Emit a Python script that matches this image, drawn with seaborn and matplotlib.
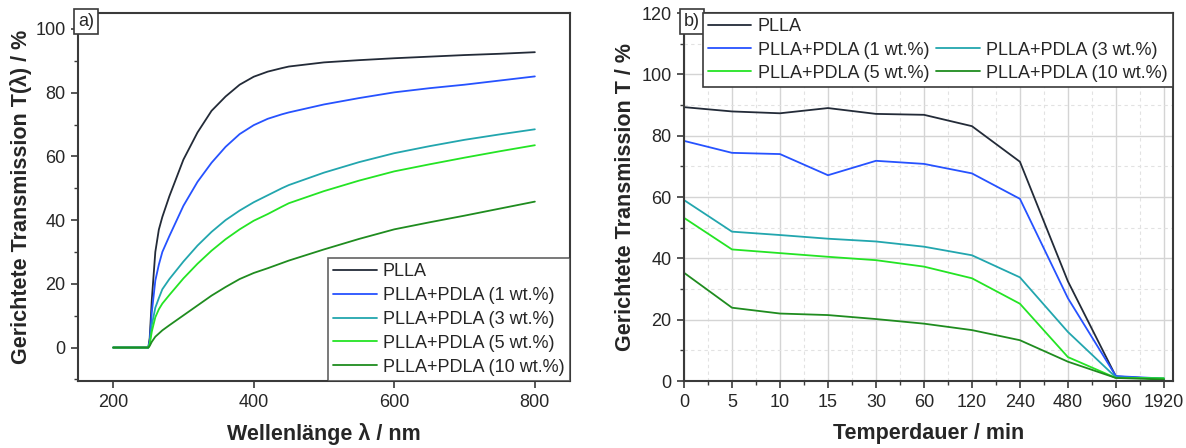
import numpy as np
import pandas as pd
import matplotlib
matplotlib.use("Agg")
import matplotlib.pyplot as plt
from matplotlib.ticker import MultipleLocator, AutoMinorLocator
from matplotlib.lines import Line2D
import seaborn as sns

sns.set_style("white")
plt.rcParams["font.family"] = ["Liberation Sans", "DejaVu Sans"]

# panel a: spectra
wavelength = [200, 250, 252, 255, 260, 265, 270, 280, 300, 320, 340, 360, 380, 400,
              420, 440, 450, 500, 550, 600, 650, 700, 750, 800]
t_plla = [0, 0, 3, 15, 30, 37, 41, 47.5, 59, 67.5, 74.3, 78.8, 82.5, 85.0,
          86.6, 87.7, 88.2, 89.5, 90.2, 90.8, 91.3, 91.8, 92.2, 92.7]
t_1wt = [0, 0, 2, 11, 21, 26, 30, 35, 44.5, 52, 58, 63, 67, 69.8,
         71.8, 73.2, 73.8, 76.3, 78.3, 80.1, 81.4, 82.5, 83.8, 85.1]
t_3wt = [0, 0, 1.5, 7, 12.5, 15.5, 18.3, 21.5, 27, 32, 36.3, 40, 43, 45.6,
         47.8, 50.0, 51, 54.9, 58.2, 61, 63.2, 65.2, 66.9, 68.5]
t_5wt = [0, 0, 1, 5, 9.5, 12, 13.8, 16.5, 21.7, 26.3, 30.4, 34, 37.1, 39.8,
         41.9, 44.2, 45.3, 49.1, 52.4, 55.3, 57.5, 59.6, 61.6, 63.5]
t_10wt = [0, 0, 0.5, 1.8, 3.4, 4.4, 5.4, 7.0, 10.1, 13.2, 16.3, 19.0, 21.5, 23.4,
          24.9, 26.5, 27.3, 30.8, 34.1, 37.1, 39.3, 41.4, 43.6, 45.8]

# panel b: transmission vs annealing time
time_labels = ["0", "5", "10", "15", "30", "60", "120", "240", "480", "960", "1920"]
b_plla = [89.3, 87.9, 87.3, 89.0, 87.1, 86.8, 83.1, 71.5, 32.5, 1.5, 0.6]
b_1wt = [78.3, 74.4, 74.0, 67.1, 71.8, 70.8, 67.7, 59.4, 27.0, 1.6, 0.8]
b_3wt = [59.0, 48.7, 47.6, 46.4, 45.5, 43.8, 41.0, 33.8, 16.0, 1.2, 0.8]
b_5wt = [53.2, 42.9, 41.7, 40.5, 39.4, 37.3, 33.5, 25.2, 7.8, 1.0, 0.9]
b_10wt = [35.3, 23.9, 22.0, 21.5, 20.2, 18.7, 16.6, 13.3, 6.3, 1.0, 0.5]

names = ["PLLA", "PLLA+PDLA (1 wt.%)", "PLLA+PDLA (3 wt.%)",
         "PLLA+PDLA (5 wt.%)", "PLLA+PDLA (10 wt.%)"]
colors = ["#232b38", "#2652ff", "#22a6ae", "#24e424", "#1f8c1f"]

spine_c = "#3a3a3a"

fig = plt.figure(figsize=(11.86, 4.48), dpi=100)
ax1 = fig.add_axes([78 / 1186, 1 - 381 / 448, (570 - 78) / 1186, (381 - 13) / 448])
ax2 = fig.add_axes([684 / 1186, 1 - 381 / 448, (1173 - 684) / 1186, (381 - 13) / 448])

def style(ax):
    for s in ax.spines.values():
        s.set_color(spine_c)
        s.set_linewidth(1.5)
    ax.tick_params(which="major", direction="out", length=5, width=1.2,
                   color=spine_c, labelsize=13, bottom=True, left=True, pad=4)
    ax.tick_params(which="minor", direction="out", length=3, width=1.0,
                   color=spine_c, bottom=True, left=True)

# ---- a)
for y, n, c in zip([t_plla, t_1wt, t_3wt, t_5wt, t_10wt], names, colors):
    sns.lineplot(x=wavelength, y=y, color=c, label=n, linewidth=1.3, ax=ax1)
ax1.set_xlim(150, 850)
ax1.set_ylim(-10.5, 105)
ax1.xaxis.set_major_locator(MultipleLocator(200))
ax1.yaxis.set_major_locator(MultipleLocator(20))
ax1.yaxis.set_minor_locator(MultipleLocator(10))
style(ax1)
ax1.set_xlabel("Wellenlänge λ / nm", fontsize=15.5, fontweight="bold", labelpad=9)
ax1.set_ylabel("Gerichtete Transmission T(λ) / %", fontsize=15.5, fontweight="bold", labelpad=2)
leg1 = ax1.legend(loc="lower right", borderaxespad=0, fontsize=13, frameon=True,
                  fancybox=False, edgecolor=spine_c, handlelength=2.4,
                  handletextpad=0.35, labelspacing=0.38, borderpad=0.3)
leg1.get_frame().set_linewidth(1.2)
ax1.text(0.0, 1.0, "a)", transform=ax1.transAxes, ha="left", va="top", fontsize=13,
         bbox=dict(boxstyle="square,pad=0.2", fc="white", ec=spine_c, lw=1.2))

# ---- b)
pos = np.arange(len(time_labels))
ax2.grid(True, which="major", color="#d4d4d4", linewidth=1.0)
ax2.grid(True, which="minor", color="#e2e2e2", linewidth=0.8, linestyle=(0, (3, 3)))
ax2.set_axisbelow(True)
handles = []
for y, n, c in zip([b_plla, b_1wt, b_3wt, b_5wt, b_10wt], names, colors):
    sns.lineplot(x=pos, y=y, color=c, linewidth=1.3, ax=ax2)
    handles.append(Line2D([], [], color=c, linewidth=1.3, label=n))
ax2.set_xlim(0, 10.19)
ax2.set_ylim(0, 120)
ax2.set_xticks(pos)
ax2.set_xticklabels(time_labels)
ax2.xaxis.set_minor_locator(AutoMinorLocator(2))
ax2.yaxis.set_major_locator(MultipleLocator(20))
ax2.yaxis.set_minor_locator(MultipleLocator(10))
style(ax2)
ax2.set_xlabel("Temperdauer / min", fontsize=15.5, fontweight="bold", labelpad=9)
ax2.set_ylabel("Gerichtete Transmission T / %", fontsize=15.5, fontweight="bold", labelpad=4)
blank = Line2D([], [], color="none", label=" ")
order = [handles[0], handles[1], handles[3], blank, handles[2], handles[4]]
leg2 = ax2.legend(handles=order, labels=[h.get_label() for h in order], ncol=2,
                  loc="upper right", bbox_to_anchor=(1.0, 1.0), borderaxespad=0,
                  fontsize=13, frameon=True, fancybox=False, edgecolor=spine_c,
                  handlelength=2.4, handletextpad=0.35, labelspacing=0.34,
                  columnspacing=0.4, borderpad=0.3, framealpha=1)
leg2.get_frame().set_linewidth(1.2)
ax2.text(0.0, 1.0, "b)", transform=ax2.transAxes, ha="left", va="top", fontsize=13,
         bbox=dict(boxstyle="square,pad=0.2", fc="white", ec=spine_c, lw=1.2))

fig.savefig("out.png", dpi=100)
